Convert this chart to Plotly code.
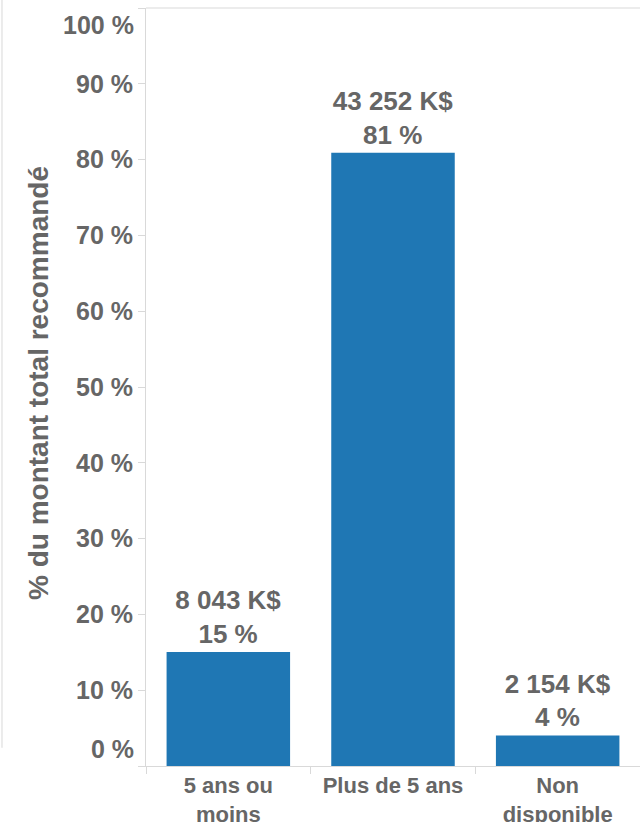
import plotly.graph_objects as go

categories = ["5 ans ou<br>moins", "Plus de 5 ans", "Non<br>disponible"]
amounts_k = ["8 043", "43 252", "2 154"]
pct_values = [15.05, 80.92, 4.03]
pct_labels = ["15 %", "81 %", "4 %"]
y_tick_vals = [0, 10, 20, 30, 40, 50, 60, 70, 80, 90, 100]
y_tick_text = ["", "10 %", "20 %", "30 %", "40 %", "50 %", "60 %", "70 %", "80 %", "90 %", ""]
y_bottom_label = "0 %"
y_top_label = "100 %"
y_title = "% du montant total recommandé"

FONT = "Liberation Sans, Arial, sans-serif"
GREY = "#666666"
LINE = "#d9d9d9"

bar_text = [f"{a} K$<br>{p}" for a, p in zip(amounts_k, pct_labels)]

fig = go.Figure(go.Bar(
    x=categories, y=pct_values,
    marker=dict(color="#1f77b4", line=dict(width=0)),
    text=bar_text, textposition="outside", cliponaxis=False,
    textfont=dict(family=FONT, size=26, color=GREY, weight="bold"),
))

edge_font = dict(family=FONT, size=25, color=GREY, weight="bold")

fig.update_layout(
    width=640, height=822,
    margin=dict(l=146, r=0, t=8, b=56, autoexpand=False),
    plot_bgcolor="white", paper_bgcolor="white",
    showlegend=False,
    font=dict(family=FONT, color=GREY),
    xaxis=dict(
        automargin=False,
        showline=True, linecolor=LINE, linewidth=1,
        ticks="outside", tickson="boundaries", ticklen=7, tickcolor=LINE,
        tickfont=dict(family=FONT, size=22, color=GREY, weight="bold"),
        showgrid=False,
    ),
    yaxis=dict(
        automargin=False,
        range=[0, 100], tickvals=y_tick_vals, ticktext=y_tick_text,
        showline=True, linecolor=LINE, linewidth=1,
        ticks="outside", ticklen=7, tickcolor=LINE,
        tickfont=edge_font,
        ticklabeloverflow="allow",
        showgrid=False, zeroline=False,
    ),
    bargap=0.25,
    annotations=[
        dict(text=y_top_label, xref="paper", yref="paper", x=-0.020, y=0.978,
             xanchor="right", yanchor="middle", showarrow=False, font=edge_font),
        dict(text=y_bottom_label, xref="paper", yref="paper", x=-0.020, y=0.023,
             xanchor="right", yanchor="middle", showarrow=False, font=edge_font),
        dict(text=y_title, xref="paper", yref="paper", x=-0.219, y=0.505,
             xanchor="center", yanchor="middle", showarrow=False, textangle=-90,
             font=dict(family=FONT, size=28, color=GREY, weight="bold")),
    ],
    shapes=[
        dict(type="line", xref="paper", yref="paper", x0=0, x1=1, y0=1, y1=1,
             line=dict(color=LINE, width=1)),
        dict(type="line", xref="paper", yref="paper", x0=-0.2915, x1=-0.2915,
             y0=0.024, y1=1.02, line=dict(color=LINE, width=1)),
    ],
)

fig.write_html(
    "out.html",
    config={"displayModeBar": False},
    post_script="document.body.style.margin='0';document.body.style.overflow='hidden';",
)
